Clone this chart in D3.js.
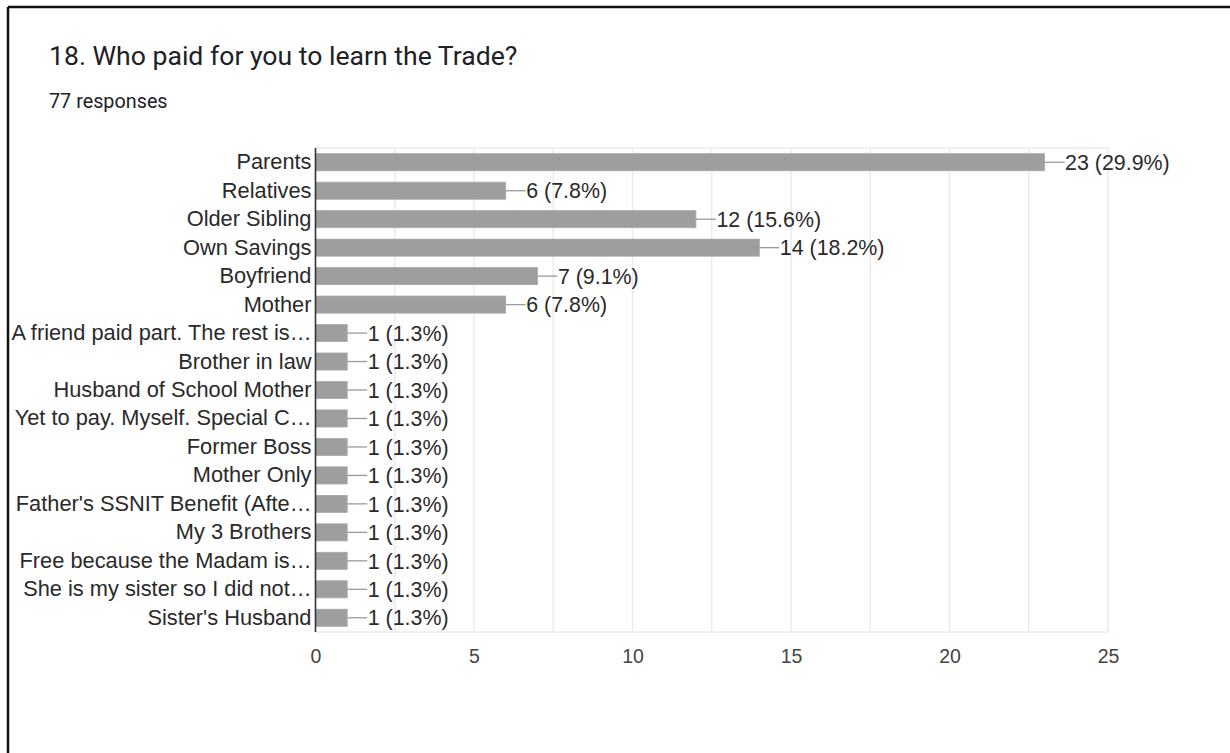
<!DOCTYPE html>
<html>
<head>
<meta charset="utf-8">
<script src="https://cdn.jsdelivr.net/npm/d3@7"></script>
<style>
  html, body { margin: 0; padding: 0; background: #fff; }
  svg { display: block; }
</style>
</head>
<body>
<svg id="chart" width="1230" height="753"></svg>
<script>
// Survey question 18 — who paid for the respondent's training
const title = "18. Who paid for you to learn the Trade?";
const subtitle = "77 responses";

const categories = [
  "Parents",
  "Relatives",
  "Older Sibling",
  "Own Savings",
  "Boyfriend",
  "Mother",
  "A friend paid part. The rest is…",
  "Brother in law",
  "Husband of School Mother",
  "Yet to pay. Myself. Special C…",
  "Former Boss",
  "Mother Only",
  "Father's SSNIT Benefit (Afte…",
  "My 3 Brothers",
  "Free because the Madam is…",
  "She is my sister so I did not…",
  "Sister's Husband"
];
const counts = [23, 6, 12, 14, 7, 6, 1, 1, 1, 1, 1, 1, 1, 1, 1, 1, 1];
const percents = ["29.9", "7.8", "15.6", "18.2", "9.1", "7.8", "1.3", "1.3", "1.3", "1.3", "1.3", "1.3", "1.3", "1.3", "1.3", "1.3", "1.3"];
const xTicks = [0, 5, 10, 15, 20, 25];
const xGrid = [2.5, 5, 7.5, 10, 12.5, 15, 17.5, 20, 22.5, 25];

const rows = categories.map((c, i) => ({ name: c, count: counts[i], pct: percents[i] }));

const svg = d3.select("#chart");
const W = 1230, H = 753;

// card frame (top and left edges)
svg.append("line").attr("x1", 8).attr("x2", W).attr("y1", 7).attr("y2", 7)
  .attr("stroke", "#111").attr("stroke-width", 2.5);
svg.append("line").attr("x1", 8).attr("x2", 8).attr("y1", 7).attr("y2", H)
  .attr("stroke", "#111").attr("stroke-width", 2.5);

// heading
svg.append("text").attr("x", 49).attr("y", 65)
  .attr("font-family", "Roboto, 'Noto Sans', sans-serif").attr("font-size", 26.6)
  .attr("fill", "#202124").text(title);
svg.append("text").attr("x", 49).attr("y", 108)
  .attr("font-family", "Roboto, 'Noto Sans', sans-serif").attr("font-size", 19.8)
  .attr("fill", "#202124").text(subtitle);

const plot = { left: 315.5, right: 1108, top: 148, bottom: 632 };

const x = d3.scaleLinear().domain([0, 25]).range([plot.left, plot.right]);
const y = d3.scaleBand().domain(categories).range([plot.top, plot.bottom])
  .paddingInner(0.4).paddingOuter(0.2);

const font = "Arial, 'Liberation Sans', sans-serif";

// vertical gridlines
svg.append("g").selectAll("line").data(xGrid).join("line")
  .attr("x1", d => x(d)).attr("x2", d => x(d))
  .attr("y1", plot.top).attr("y2", plot.bottom)
  .attr("stroke", "#ebebeb").attr("stroke-width", 1.5);

// top and bottom plot edges
svg.append("line").attr("x1", plot.left).attr("x2", plot.right)
  .attr("y1", plot.top).attr("y2", plot.top)
  .attr("stroke", "#ebebeb").attr("stroke-width", 1.5);
svg.append("line").attr("x1", plot.left).attr("x2", plot.right)
  .attr("y1", plot.bottom).attr("y2", plot.bottom)
  .attr("stroke", "#ebebeb").attr("stroke-width", 1.5);

// bars
svg.append("g").selectAll("rect").data(rows).join("rect")
  .attr("x", x(0) + 0.5)
  .attr("y", d => y(d.name))
  .attr("width", d => x(d.count) - x(0) - 0.5)
  .attr("height", y.bandwidth())
  .attr("fill", "#9e9e9e")
  .attr("stroke", "#a8a8a8").attr("stroke-width", 0.8);

// leader lines + value labels
const lead = 20;
svg.append("g").selectAll("line").data(rows).join("line")
  .attr("x1", d => x(d.count)).attr("x2", d => x(d.count) + lead)
  .attr("y1", d => y(d.name) + y.bandwidth() / 2)
  .attr("y2", d => y(d.name) + y.bandwidth() / 2)
  .attr("stroke", "#9a9a9a").attr("stroke-width", 1.3);

svg.append("g").selectAll("text").data(rows).join("text")
  .attr("x", d => x(d.count) + lead + 0.5)
  .attr("y", d => y(d.name) + y.bandwidth() / 2)
  .attr("dy", "0.36em")
  .attr("font-family", font).attr("font-size", 21.4)
  .attr("fill", "#2a2a2a")
  .text(d => `${d.count} (${d.pct}%)`);

// category axis
const yAxis = svg.append("g").attr("transform", `translate(${plot.left},0)`)
  .call(d3.axisLeft(y).tickSize(0).tickPadding(4));
yAxis.select(".domain").attr("stroke", "#333").attr("stroke-width", 1.6)
  .attr("d", `M0,${plot.top}V${plot.bottom}`);
yAxis.selectAll("text")
  .attr("font-family", font).attr("font-size", 21.8).attr("fill", "#2a2a2a");

// value axis
const xAxis = svg.append("g").attr("transform", `translate(0,${plot.bottom})`)
  .call(d3.axisBottom(x).tickValues(xTicks).tickSize(0).tickPadding(17));
xAxis.select(".domain").remove();
xAxis.selectAll("text")
  .attr("font-family", font).attr("font-size", 19.5).attr("fill", "#444");
</script>
</body>
</html>
